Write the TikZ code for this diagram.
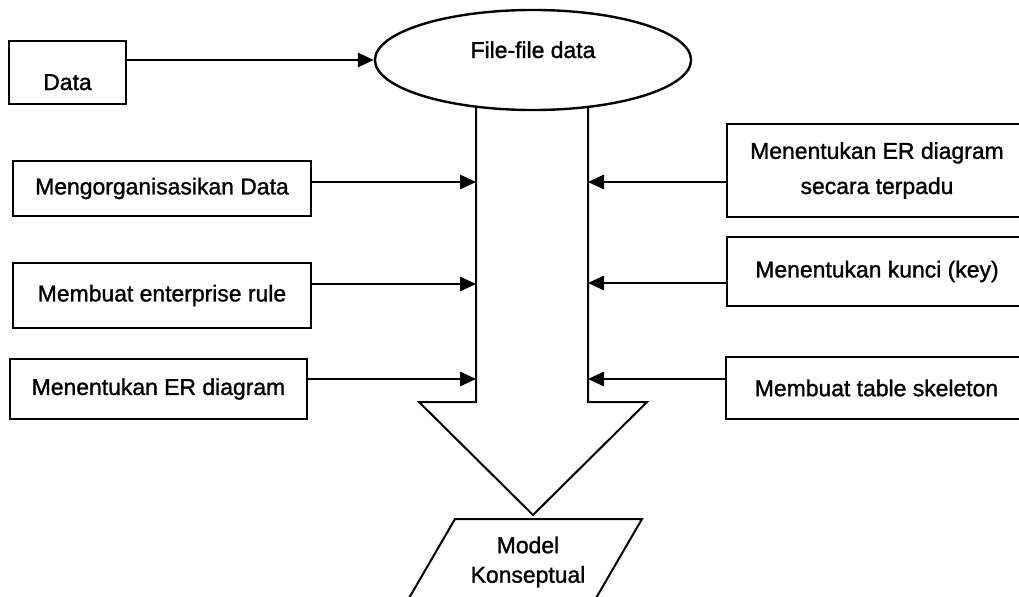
\documentclass[tikz,border=0pt]{standalone}
\usepackage{fontspec}
\setmainfont{Liberation Sans}[FakeBold=1.3]
\usetikzlibrary{shapes,arrows.meta}
\tikzset{>={Triangle[length=4mm, width=3.6mm]}}

\begin{document}
\begin{tikzpicture}[x=0.025cm, y=-0.025cm, font=\fontsize{16.3pt}{20pt}\selectfont]

\useasboundingbox (0, 0) rectangle (1019, 597);

%% styles
\tikzstyle{stepbox}=[draw, text centered, inner sep=0pt, line width=0.065cm]

\tikzstyle{flow}=[draw, line width=0.05cm]

%% source and files
\node(D1)[style = stepbox, minimum width=2.925cm, minimum height=1.575cm, text height=0.975cm, text depth=0.1cm] at (67.5, 72.5)
{
Data
};

\node(F1)[ellipse, draw, line width=0.06cm, inner sep=0pt, minimum width=7.9cm, minimum height=2.5cm, text height=0.45cm, text depth=0.55cm] at (533, 60)
{
File-file data
};

%% left boxes
\node(L1)[style = stepbox, minimum width=7.45cm, minimum height=1.375cm] at (162, 188.5)
{
Mengorganisasikan Data
};

\node(L2)[style = stepbox, minimum width=7.45cm, minimum height=1.625cm] at (162, 295.5)
{
Membuat enterprise rule
};

\node(L3)[style = stepbox, minimum width=7.425cm, minimum height=1.5cm] at (158.5, 389)
{
Menentukan ER diagram
};

%% right boxes
\node(R1)[style = stepbox, align=center, minimum width=7.5cm, minimum height=2.325cm] at (877, 170.5)
{
Menentukan ER diagram\\[5pt] secara terpadu
};

\node(R2)[style = stepbox, minimum width=7.5cm, minimum height=1.725cm] at (877, 271.5)
{
Menentukan kunci (key)
};

\node(R3)[style = stepbox, minimum width=7.525cm, minimum height=1.55cm] at (876.5, 388)
{
Membuat table skeleton
};

%% big arrow
\path [style = flow, line join=miter] (476, 107) -- (476, 402) -- (419, 402) -- (533, 515) -- (647, 402) -- (588, 402) -- (588, 107);

\coordinate (A1) at (476, 182);
\coordinate (A2) at (476, 284);
\coordinate (A3) at (476, 379);
\coordinate (B1) at (588, 182);
\coordinate (B2) at (588, 283);
\coordinate (B3) at (588, 379);

%% result
\path [style = flow, line join=miter] (405, 605) -- (455, 519) -- (642, 519) -- (592, 605);

\node(M1)[align=center] at (528, 562)
{
Model\\[1pt]Konseptual
};

%% arrows
\path [style = flow, ->] (D1.east |- F1.west) -- (F1.west);

\path [style = flow, ->] (L1.east |- A1) -- (A1);
\path [style = flow, ->] (L2.east |- A2) -- (A2);
\path [style = flow, ->] (L3.east |- A3) -- (A3);

\path [style = flow, ->] (R1.west |- B1) -- (B1);
\path [style = flow, ->] (R2.west |- B2) -- (B2);
\path [style = flow, ->] (R3.west |- B3) -- (B3);

\end{tikzpicture}
\end{document}
